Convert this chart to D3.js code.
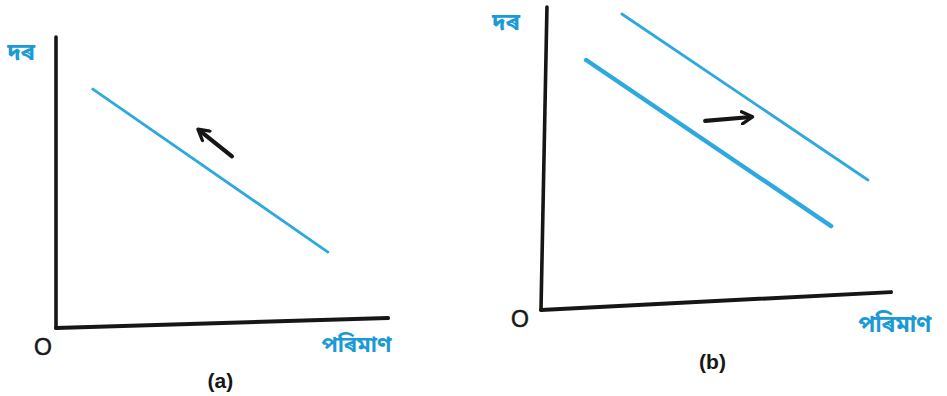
<!DOCTYPE html>
<html>
<head>
<meta charset="utf-8">
<script src="https://cdn.jsdelivr.net/npm/d3@7"></script>
<style>
  html, body { margin: 0; padding: 0; background: #ffffff; }
  svg { display: block; }
</style>
</head>
<body>
<svg id="chart" width="947" height="396"></svg>
<script>
// ---- data (data units: quantity 0..10, price 0..10) ----
const panelNames = ["(a)", "(b)"];
const priceLabel = "দৰ";
const quantityLabel = "পৰিমাণ";
const originLabel = "O";

// panel (a): one demand curve and a shift arrow
const aXAxis = [[0, 0], [10, 0.34]];
const aYAxis = [[0, 0], [0, 10]];
const aCurve = [[1.11, 8.21], [8.19, 2.61]];
const aArrow = [[5.3, 5.9], [4.31, 6.8]];

// panel (b): original and shifted demand curves with arrow
const bXAxis = [[0, 0], [10, 0.59]];
const bYAxis = [[0, 0], [0.17, 10]];
const bCurveOld = [[1.29, 8.25], [8.29, 2.77]];
const bCurveNew = [[2.31, 9.77], [9.34, 4.29]];
const bArrow = [[4.69, 6.24], [6.0, 6.37]];

const svg = d3.select("#chart");
const blue = "#23a4de";
const textBlue = "#1b9ad6";
const ink = "#161616";

const defs = svg.append("defs");
defs.append("marker")
  .attr("id", "head")
  .attr("viewBox", "0 0 10 10")
  .attr("refX", 7).attr("refY", 5)
  .attr("markerWidth", 3.6).attr("markerHeight", 3.6)
  .attr("orient", "auto")
  .append("path")
  .attr("d", "M1,1 L8,5 L1,9")
  .attr("fill", "none")
  .attr("stroke", ink)
  .attr("stroke-width", 2.2)
  .attr("stroke-linecap", "round")
  .attr("stroke-linejoin", "round");

function panel(cfg) {
  const x = d3.scaleLinear().domain([0, 10]).range(cfg.xr);
  const y = d3.scaleLinear().domain([0, 10]).range(cfg.yr);
  const line = d3.line().x(d => x(d[0])).y(d => y(d[1]));
  const g = svg.append("g");

  g.append("path").attr("d", line(cfg.yAxis))
    .attr("stroke", ink).attr("stroke-width", 3.6).attr("fill", "none").attr("stroke-linecap", "round");
  g.append("path").attr("d", line(cfg.xAxis))
    .attr("stroke", ink).attr("stroke-width", 4).attr("fill", "none").attr("stroke-linecap", "round");

  cfg.curves.forEach(c => {
    g.append("path").attr("d", line(c.pts))
      .attr("stroke", blue).attr("stroke-width", c.w).attr("fill", "none")
      .attr("stroke-linecap", "round").attr("opacity", 0.95);
  });

  g.append("path").attr("d", line(cfg.arrow))
    .attr("stroke", ink).attr("stroke-width", 4.2).attr("fill", "none")
    .attr("stroke-linecap", "round")
    .attr("marker-end", "url(#head)");

  const bn = "'Noto Sans Bengali','Noto Serif Bengali','Lohit Assamese','Lohit Bengali','Noto Sans',sans-serif";
  g.append("text").text(priceLabel)
    .attr("x", x(cfg.priceAt[0])).attr("y", y(cfg.priceAt[1]))
    .attr("font-family", bn).attr("font-size", 24).attr("font-weight", 700)
    .attr("fill", textBlue).attr("text-anchor", "middle");
  g.append("text").text(quantityLabel)
    .attr("x", x(cfg.qtyAt[0])).attr("y", y(cfg.qtyAt[1]))
    .attr("font-family", bn).attr("font-size", cfg.qtySize).attr("font-weight", 700)
    .attr("fill", textBlue).attr("text-anchor", "middle");
  g.append("text").text(originLabel)
    .attr("x", x(cfg.originAt[0])).attr("y", y(cfg.originAt[1]))
    .attr("font-family", "'Liberation Sans', Arial, sans-serif").attr("font-size", 23)
    .attr("stroke", ink).attr("stroke-width", 0.5)
    .attr("fill", ink).attr("text-anchor", "middle");
  g.append("text").text(cfg.name)
    .attr("x", x(cfg.nameAt[0])).attr("y", y(cfg.nameAt[1]))
    .attr("font-family", "'Liberation Sans', Arial, sans-serif").attr("font-size", 21)
    .attr("font-weight", 700)
    .attr("fill", ink).attr("text-anchor", "middle");
}

panel({
  name: panelNames[0],
  xr: [56, 388], yr: [328, 37],
  xAxis: aXAxis, yAxis: aYAxis,
  curves: [{ pts: aCurve, w: 2.8 }],
  arrow: aArrow,
  priceAt: [-1.05, 9.2],
  qtyAt: [9.05, -0.82],
  qtySize: 22,
  originAt: [-0.39, -0.92],
  nameAt: [4.95, -2.07]
});

panel({
  name: panelNames[1],
  xr: [541, 891], yr: [310, 7],
  xAxis: bXAxis, yAxis: bYAxis,
  curves: [{ pts: bCurveOld, w: 4.4 }, { pts: bCurveNew, w: 2.8 }],
  arrow: bArrow,
  priceAt: [-1.0, 9.24],
  qtyAt: [10.11, -0.73],
  qtySize: 23,
  originAt: [-0.6, -0.55],
  nameAt: [4.9, -1.95]
});
</script>
</body>
</html>
